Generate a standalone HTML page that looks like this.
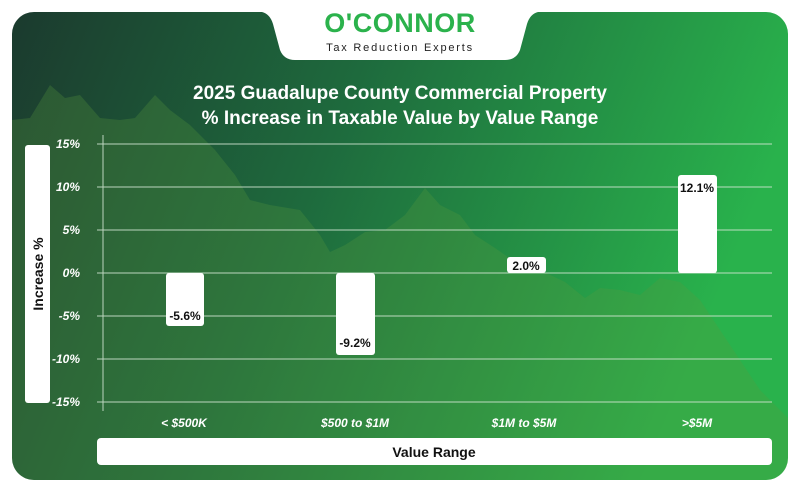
<!DOCTYPE html>
<html><head><meta charset="utf-8"><style>
html,body{margin:0;padding:0;background:#fff;}
body{width:800px;height:492px;position:relative;overflow:hidden;font-family:"Liberation Sans",sans-serif;}
</style></head><body>
<svg width="800" height="492" viewBox="0 0 800 492" xmlns="http://www.w3.org/2000/svg" style="position:absolute;left:0;top:0">
<defs>
<linearGradient id="bg" x1="0" y1="0" x2="1" y2="0.25">
<stop offset="0" stop-color="#1b3a2e"/>
<stop offset="0.45" stop-color="#1e6a3d"/>
<stop offset="1" stop-color="#29b24c"/>
</linearGradient>
<clipPath id="card"><rect x="12" y="12" width="776" height="468" rx="22"/></clipPath>
</defs>
<rect x="12" y="12" width="776" height="468" rx="22" fill="url(#bg)"/>
<g clip-path="url(#card)">
<path d="M12,120 L30,118 L50,85 L65,98 L80,95 L100,118 L120,120 L135,118 L155,95 L170,110 L190,125 L215,150 L235,175 L250,200 L270,205 L300,210 L320,235 L330,252 L345,245 L365,232 L385,230 L405,215 L425,188 L440,205 L460,215 L475,235 L495,248 L515,262 L540,270 L565,282 L585,298 L600,288 L620,290 L640,295 L660,278 L680,282 L700,300 L720,330 L740,360 L760,390 L790,420 L790,480 L12,480 Z" fill="#5a9a3c" opacity="0.28"/>
</g>
<path d="M262,12 L538,12 Q530,14 527,24 L520,50 Q516,60 505,60 L295,60 Q284,60 280,50 L273,24 Q270,14 262,12 Z" fill="#fff"/>
<text x="400" y="32" text-anchor="middle" font-size="27" font-weight="bold" fill="#2bb24c" letter-spacing="0.5">O'CONNOR</text>
<text x="400" y="51" text-anchor="middle" font-size="11" fill="#222" letter-spacing="1.8">Tax Reduction Experts</text>
<text x="400" y="99" text-anchor="middle" font-size="19" font-weight="bold" fill="#fff">2025 Guadalupe County Commercial Property</text>
<text x="400" y="124" text-anchor="middle" font-size="19" font-weight="bold" fill="#fff">% Increase in Taxable Value by Value Range</text>
<g stroke="#d6e8d6" stroke-width="1" opacity="0.85">
<line x1="97" y1="144" x2="772" y2="144"/>
<line x1="97" y1="187" x2="772" y2="187"/>
<line x1="97" y1="230" x2="772" y2="230"/>
<line x1="97" y1="273" x2="772" y2="273"/>
<line x1="97" y1="316" x2="772" y2="316"/>
<line x1="97" y1="359" x2="772" y2="359"/>
<line x1="97" y1="402" x2="772" y2="402"/>
<line x1="103" y1="135" x2="103" y2="411"/>
</g>
<g font-size="12" font-weight="bold" font-style="italic" fill="#fff" text-anchor="end">
<text x="80" y="148">15%</text><text x="80" y="191">10%</text><text x="80" y="234">5%</text>
<text x="80" y="277">0%</text><text x="80" y="320">-5%</text><text x="80" y="363">-10%</text><text x="80" y="406">-15%</text>
</g>
<rect x="25" y="145" width="25" height="258" rx="3" fill="#fff"/>
<text transform="translate(43,274) rotate(-90)" text-anchor="middle" font-size="14" font-weight="bold" fill="#111">Increase %</text>
<g fill="#fff">
<rect x="166" y="273" width="38" height="53" rx="3"/>
<rect x="336" y="273" width="39" height="82" rx="3"/>
<rect x="507" y="257" width="39" height="16" rx="3"/>
<rect x="678" y="175" width="39" height="98" rx="3"/>
</g>
<g font-size="12" font-weight="bold" fill="#111" text-anchor="middle">
<text x="185" y="320">-5.6%</text>
<text x="355" y="347">-9.2%</text>
<text x="526" y="270">2.0%</text>
<text x="697" y="192">12.1%</text>
</g>
<g font-size="12" font-weight="bold" font-style="italic" fill="#fff" text-anchor="middle">
<text x="184" y="427">&lt; $500K</text>
<text x="355" y="427">$500 to $1M</text>
<text x="524" y="427">$1M to $5M</text>
<text x="697" y="427">&gt;$5M</text>
</g>
<rect x="97" y="438" width="675" height="27" rx="4" fill="#fff"/>
<text x="434" y="457" text-anchor="middle" font-size="14" font-weight="bold" fill="#111">Value Range</text>
</svg>
</body></html>
